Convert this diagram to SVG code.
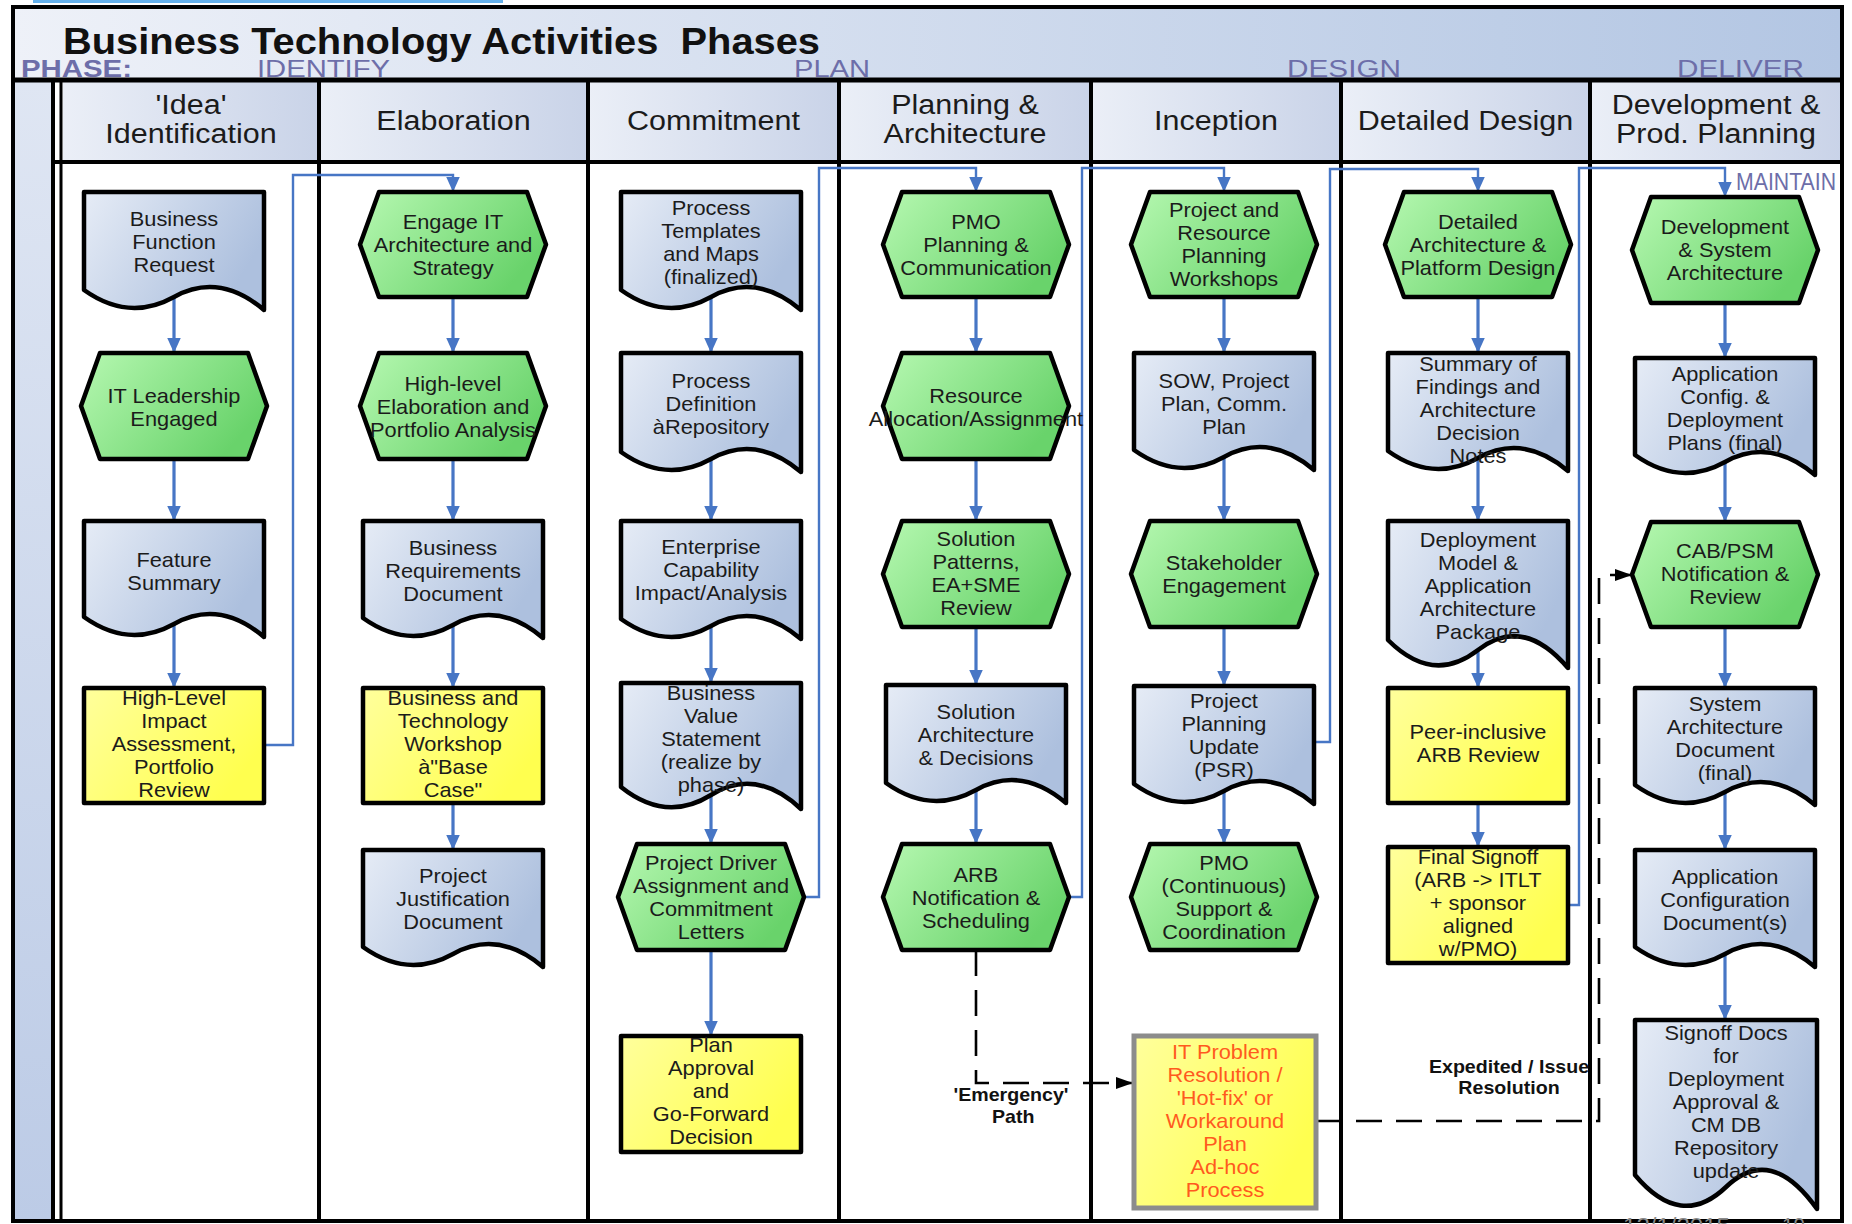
<svg xmlns="http://www.w3.org/2000/svg" width="1852" height="1224" viewBox="0 0 1852 1224">
<style>
  .doc{fill:url(#gDoc);stroke:#000;stroke-width:4.5;stroke-linejoin:round}
  .hex{fill:url(#gHex);stroke:#000;stroke-width:4.5;stroke-linejoin:round}
  .yel{fill:url(#gYel);stroke:#000;stroke-width:4.5;stroke-linejoin:round}
  .warn{fill:url(#gYel);stroke:#8c8c8c;stroke-width:5}
  .grid{stroke:#000;stroke-width:4;fill:none}
  .t{font-family:"Liberation Sans",Arial,Helvetica,sans-serif;font-size:20px;fill:#1b1b1b;text-anchor:middle;transform-box:fill-box;transform-origin:center;transform:scaleX(1.09)}
  .h{font-size:27px;transform:scaleX(1.13)}
  .lbl{font-size:18px;font-weight:bold;fill:#111}
  .red{fill:#ff5a1e}
  .ph{font-family:"Liberation Sans",Arial,Helvetica,sans-serif;font-size:23px;fill:#6d6ea9}
  .flow{fill:none;stroke:#4776c5;stroke-width:3.2;marker-end:url(#ah)}
  .route{fill:none;stroke:#4776c5;stroke-width:2.4;marker-end:url(#ah)}
  .dash{fill:none;stroke:#000;stroke-width:2.6;stroke-dasharray:26 14;marker-end:url(#ak)}
</style>
<defs>
  <linearGradient id="gDoc" x1="0" y1="0" x2="1" y2="0.4">
    <stop offset="0" stop-color="#e6ecf6"/>
    <stop offset="1" stop-color="#adc0de"/>
  </linearGradient>
  <linearGradient id="gHex" x1="0" y1="0" x2="1" y2="0.5">
    <stop offset="0" stop-color="#b6f8b1"/>
    <stop offset="1" stop-color="#69d36b"/>
  </linearGradient>
  <linearGradient id="gYel" x1="0" y1="0" x2="1" y2="0.5">
    <stop offset="0" stop-color="#ffff9c"/>
    <stop offset="1" stop-color="#ffff4f"/>
  </linearGradient>
  <linearGradient id="gTitle" x1="0" y1="0" x2="1" y2="0">
    <stop offset="0" stop-color="#eef1f8"/>
    <stop offset="1" stop-color="#b3c6e3"/>
  </linearGradient>
  <linearGradient id="gHead" x1="0" y1="0" x2="1" y2="0">
    <stop offset="0" stop-color="#ebeff7"/>
    <stop offset="1" stop-color="#c9d3e8"/>
  </linearGradient>
  <linearGradient id="gBar" x1="0" y1="0" x2="0" y2="1">
    <stop offset="0" stop-color="#dfe6f3"/>
    <stop offset="1" stop-color="#bccbe6"/>
  </linearGradient>
  <marker id="ah" markerUnits="userSpaceOnUse" markerWidth="15" markerHeight="15" viewBox="0 0 10 10" refX="10" refY="5" orient="auto">
    <path d="M0,0.5 L10,5 L0,9.5 Z" fill="#4776c5"/>
  </marker>
  <marker id="ak" markerUnits="userSpaceOnUse" markerWidth="17" markerHeight="17" viewBox="0 0 10 10" refX="10" refY="5" orient="auto">
    <path d="M0,1.5 L10,5 L0,8.5 Z" fill="#000"/>
  </marker>
</defs>

<!-- page background and swimlane frame -->
<rect width="1852" height="1224" fill="#fff"/>
<rect x="33" y="0" width="470" height="3" fill="#64b0ec"/>
<rect x="13" y="7" width="1829" height="73" fill="url(#gTitle)"/>
<rect x="13" y="80" width="40" height="1141" fill="url(#gBar)"/>
<g id="header-cells">
  <rect x="63" y="80" width="256" height="82" fill="url(#gHead)"/>
  <rect x="319" y="80" width="269" height="82" fill="url(#gHead)"/>
  <rect x="588" y="80" width="251" height="82" fill="url(#gHead)"/>
  <rect x="839" y="80" width="252" height="82" fill="url(#gHead)"/>
  <rect x="1091" y="80" width="250" height="82" fill="url(#gHead)"/>
  <rect x="1341" y="80" width="249" height="82" fill="url(#gHead)"/>
  <rect x="1590" y="80" width="252" height="82" fill="url(#gHead)"/>
</g>
<g id="grid" class="grid">
  <line x1="13" y1="80" x2="1842" y2="80" stroke-width="5"/>
  <line x1="53" y1="162" x2="1842" y2="162"/>
  <line x1="53" y1="80" x2="53" y2="1221"/>
  <line x1="61" y1="80" x2="61" y2="1221" stroke-width="3"/>
  <line x1="319" y1="80" x2="319" y2="1221"/>
  <line x1="588" y1="80" x2="588" y2="1221"/>
  <line x1="839" y1="80" x2="839" y2="1221"/>
  <line x1="1091" y1="80" x2="1091" y2="1221"/>
  <line x1="1341" y1="80" x2="1341" y2="1221"/>
  <line x1="1590" y1="80" x2="1590" y2="1221"/>
  <rect x="13" y="7" width="1829" height="1214"/>
</g>

<!-- title and phase labels -->
<text x="63" y="54" font-family="Liberation Sans, Arial, sans-serif" font-size="36" font-weight="bold" fill="#111" textLength="757" lengthAdjust="spacingAndGlyphs" style="white-space:pre">Business Technology Activities  Phases</text>
<text class="ph" x="21" y="77" font-weight="bold" textLength="111" lengthAdjust="spacingAndGlyphs">PHASE:</text>
<text class="ph" x="257" y="77" textLength="133" lengthAdjust="spacingAndGlyphs">IDENTIFY</text>
<text class="ph" x="794" y="77" textLength="76" lengthAdjust="spacingAndGlyphs">PLAN</text>
<text class="ph" x="1287" y="77" textLength="114" lengthAdjust="spacingAndGlyphs">DESIGN</text>
<text class="ph" x="1677" y="77" textLength="127" lengthAdjust="spacingAndGlyphs">DELIVER</text>
<text class="ph" x="1736" y="190" font-size="18" textLength="100" lengthAdjust="spacingAndGlyphs">MAINTAIN</text>

<!-- column headers -->
<g id="headers">
  <text class="t h" x="191" y="114"><tspan x="191">'Idea'</tspan><tspan x="191" dy="29">Identification</tspan></text>
  <text class="t h" x="453.5" y="130">Elaboration</text>
  <text class="t h" x="713.5" y="130">Commitment</text>
  <text class="t h" x="965" y="114"><tspan x="965">Planning &amp;</tspan><tspan x="965" dy="29">Architecture</tspan></text>
  <text class="t h" x="1216" y="130">Inception</text>
  <text class="t h" x="1465.5" y="130">Detailed Design</text>
  <text class="t h" x="1716" y="114"><tspan x="1716">Development &amp;</tspan><tspan x="1716" dy="29">Prod. Planning</tspan></text>
</g>

<!-- connectors -->
<g id="connectors">
  <path class="flow" d="M174,297V353"/>
  <path class="flow" d="M174,459V521"/>
  <path class="flow" d="M174,624V688"/>
  <path class="flow" d="M453,297V353"/>
  <path class="flow" d="M453,459V521"/>
  <path class="flow" d="M453,625V688"/>
  <path class="flow" d="M453,803V850"/>
  <path class="flow" d="M711,297V353"/>
  <path class="flow" d="M711,459V521"/>
  <path class="flow" d="M711,626V683"/>
  <path class="flow" d="M711,795V844"/>
  <path class="flow" d="M711,950V1036"/>
  <path class="flow" d="M976,297V353"/>
  <path class="flow" d="M976,459V521"/>
  <path class="flow" d="M976,627V685"/>
  <path class="flow" d="M976,790V844"/>
  <path class="flow" d="M1224,297V353"/>
  <path class="flow" d="M1224,457V521"/>
  <path class="flow" d="M1224,627V686"/>
  <path class="flow" d="M1224,791V844"/>
  <path class="flow" d="M1478,297V353"/>
  <path class="flow" d="M1478,458V521"/>
  <path class="flow" d="M1478,650V688"/>
  <path class="flow" d="M1478,803V847"/>
  <path class="flow" d="M1725,303V358"/>
  <path class="flow" d="M1725,462V522"/>
  <path class="flow" d="M1725,627V688"/>
  <path class="flow" d="M1725,792V850"/>
  <path class="flow" d="M1725,954V1020"/>
  <path class="route" d="M264,745H293V175H453V192"/>
  <path class="route" d="M804,897H819V168H976V192"/>
  <path class="route" d="M1069,897H1082V168H1224V192"/>
  <path class="route" d="M1314,742H1330V169H1478V192"/>
  <path class="route" d="M1568,905H1579V168H1725V197"/>
  <path class="dash" d="M976,950V1083H1133"/>
  <path class="dash" d="M1316,1121H1599V575H1632"/>
  <text class="t lbl" x="1011" y="1101"><tspan x="1011">'Emergency'</tspan><tspan x="1013" dy="22">Path</tspan></text>
  <text class="t lbl" x="1509" y="1073"><tspan x="1509">Expedited / Issue</tspan><tspan x="1509" dy="21">Resolution</tspan></text>
</g>

<!-- IDENTIFY: 'Idea' Identification -->
<g id="business-function-request">
  <path class="doc" d="M84,192H264V310Q219,272 174,297T84,290Z"/>
  <text class="t" x="174" y="226"><tspan x="174">Business</tspan><tspan x="174" dy="23">Function</tspan><tspan x="174" dy="23">Request</tspan></text>
</g>
<g id="it-leadership-engaged">
  <polygon class="hex" points="100,353 248,353 267,406 248,459 100,459 81,406"/>
  <text class="t" x="174" y="403"><tspan x="174">IT Leadership</tspan><tspan x="174" dy="23">Engaged</tspan></text>
</g>
<g id="feature-summary">
  <path class="doc" d="M84,521H264V637Q219,599 174,624T84,617Z"/>
  <text class="t" x="174" y="567"><tspan x="174">Feature</tspan><tspan x="174" dy="23">Summary</tspan></text>
</g>
<g id="high-level-impact">
  <rect class="yel" x="84" y="688" width="180" height="115"/>
  <text class="t" x="174" y="705"><tspan x="174">High-Level</tspan><tspan x="174" dy="23">Impact</tspan><tspan x="174" dy="23">Assessment,</tspan><tspan x="174" dy="23">Portfolio</tspan><tspan x="174" dy="23">Review</tspan></text>
</g>

<!-- Elaboration -->
<g id="engage-it-architecture">
  <polygon class="hex" points="379,192 527,192 546,244.5 527,297 379,297 360,244.5"/>
  <text class="t" x="453" y="229"><tspan x="453">Engage IT</tspan><tspan x="453" dy="23">Architecture and</tspan><tspan x="453" dy="23">Strategy</tspan></text>
</g>
<g id="high-level-elaboration">
  <polygon class="hex" points="379,353 527,353 546,406 527,459 379,459 360,406"/>
  <text class="t" x="453" y="391"><tspan x="453">High-level</tspan><tspan x="453" dy="23">Elaboration and</tspan><tspan x="453" dy="23">Portfolio Analysis</tspan></text>
</g>
<g id="business-requirements-document">
  <path class="doc" d="M363,521H543V638Q498,600 453,625T363,618Z"/>
  <text class="t" x="453" y="555"><tspan x="453">Business</tspan><tspan x="453" dy="23">Requirements</tspan><tspan x="453" dy="23">Document</tspan></text>
</g>
<g id="business-technology-workshop">
  <rect class="yel" x="363" y="688" width="180" height="115"/>
  <text class="t" x="453" y="705"><tspan x="453">Business and</tspan><tspan x="453" dy="23">Technology</tspan><tspan x="453" dy="23">Workshop</tspan><tspan x="453" dy="23">à"Base</tspan><tspan x="453" dy="23">Case"</tspan></text>
</g>
<g id="project-justification-document">
  <path class="doc" d="M363,850H543V967Q498,929 453,954T363,947Z"/>
  <text class="t" x="453" y="883"><tspan x="453">Project</tspan><tspan x="453" dy="23">Justification</tspan><tspan x="453" dy="23">Document</tspan></text>
</g>

<!-- Commitment -->
<g id="process-templates">
  <path class="doc" d="M621,192H801V310Q756,272 711,297T621,290Z"/>
  <text class="t" x="711" y="215"><tspan x="711">Process</tspan><tspan x="711" dy="23">Templates</tspan><tspan x="711" dy="23">and Maps</tspan><tspan x="711" dy="23">(finalized)</tspan></text>
</g>
<g id="process-definition">
  <path class="doc" d="M621,353H801V472Q756,434 711,459T621,452Z"/>
  <text class="t" x="711" y="388"><tspan x="711">Process</tspan><tspan x="711" dy="23">Definition</tspan><tspan x="711" dy="23">àRepository</tspan></text>
</g>
<g id="enterprise-capability">
  <path class="doc" d="M621,521H801V639Q756,601 711,626T621,619Z"/>
  <text class="t" x="711" y="554"><tspan x="711">Enterprise</tspan><tspan x="711" dy="23">Capability</tspan><tspan x="711" dy="23">Impact/Analysis</tspan></text>
</g>
<g id="business-value-statement">
  <path class="doc" d="M621,683H801V809Q756,767 711,795T621,787Z"/>
  <text class="t" x="711" y="700"><tspan x="711">Business</tspan><tspan x="711" dy="23">Value</tspan><tspan x="711" dy="23">Statement</tspan><tspan x="711" dy="23">(realize by</tspan><tspan x="711" dy="23">phase)</tspan></text>
</g>
<g id="project-driver-assignment">
  <polygon class="hex" points="637,844 785,844 804,897 785,950 637,950 618,897"/>
  <text class="t" x="711" y="870"><tspan x="711">Project Driver</tspan><tspan x="711" dy="23">Assignment and</tspan><tspan x="711" dy="23">Commitment</tspan><tspan x="711" dy="23">Letters</tspan></text>
</g>
<g id="plan-approval">
  <rect class="yel" x="621" y="1036" width="180" height="116"/>
  <text class="t" x="711" y="1052"><tspan x="711">Plan</tspan><tspan x="711" dy="23">Approval</tspan><tspan x="711" dy="23">and</tspan><tspan x="711" dy="23">Go-Forward</tspan><tspan x="711" dy="23">Decision</tspan></text>
</g>

<!-- Planning & Architecture -->
<g id="pmo-planning">
  <polygon class="hex" points="902,192 1050,192 1069,244.5 1050,297 902,297 883,244.5"/>
  <text class="t" x="976" y="229"><tspan x="976">PMO</tspan><tspan x="976" dy="23">Planning &amp;</tspan><tspan x="976" dy="23">Communication</tspan></text>
</g>
<g id="resource-allocation">
  <polygon class="hex" points="902,353 1050,353 1069,406 1050,459 902,459 883,406"/>
  <text class="t" x="976" y="403"><tspan x="976">Resource</tspan><tspan x="976" dy="23">Allocation/Assignment</tspan></text>
</g>
<g id="solution-patterns">
  <polygon class="hex" points="902,521 1050,521 1069,574 1050,627 902,627 883,574"/>
  <text class="t" x="976" y="546"><tspan x="976">Solution</tspan><tspan x="976" dy="23">Patterns,</tspan><tspan x="976" dy="23">EA+SME</tspan><tspan x="976" dy="23">Review</tspan></text>
</g>
<g id="solution-architecture">
  <path class="doc" d="M886,685H1066V803Q1021,765 976,790T886,783Z"/>
  <text class="t" x="976" y="719"><tspan x="976">Solution</tspan><tspan x="976" dy="23">Architecture</tspan><tspan x="976" dy="23">&amp; Decisions</tspan></text>
</g>
<g id="arb-notification">
  <polygon class="hex" points="902,844 1050,844 1069,897 1050,950 902,950 883,897"/>
  <text class="t" x="976" y="882"><tspan x="976">ARB</tspan><tspan x="976" dy="23">Notification &amp;</tspan><tspan x="976" dy="23">Scheduling</tspan></text>
</g>

<!-- Inception -->
<g id="project-resource-workshops">
  <polygon class="hex" points="1150,192 1298,192 1317,244.5 1298,297 1150,297 1131,244.5"/>
  <text class="t" x="1224" y="217"><tspan x="1224">Project and</tspan><tspan x="1224" dy="23">Resource</tspan><tspan x="1224" dy="23">Planning</tspan><tspan x="1224" dy="23">Workshops</tspan></text>
</g>
<g id="sow-project-plan">
  <path class="doc" d="M1134,353H1314V470Q1269,432 1224,457T1134,450Z"/>
  <text class="t" x="1224" y="388"><tspan x="1224">SOW, Project</tspan><tspan x="1224" dy="23">Plan, Comm.</tspan><tspan x="1224" dy="23">Plan</tspan></text>
</g>
<g id="stakeholder-engagement">
  <polygon class="hex" points="1150,521 1298,521 1317,574 1298,627 1150,627 1131,574"/>
  <text class="t" x="1224" y="570"><tspan x="1224">Stakeholder</tspan><tspan x="1224" dy="23">Engagement</tspan></text>
</g>
<g id="project-planning-update">
  <path class="doc" d="M1134,686H1314V804Q1269,766 1224,791T1134,784Z"/>
  <text class="t" x="1224" y="708"><tspan x="1224">Project</tspan><tspan x="1224" dy="23">Planning</tspan><tspan x="1224" dy="23">Update</tspan><tspan x="1224" dy="23">(PSR)</tspan></text>
</g>
<g id="pmo-continuous">
  <polygon class="hex" points="1150,844 1298,844 1317,897 1298,950 1150,950 1131,897"/>
  <text class="t" x="1224" y="870"><tspan x="1224">PMO</tspan><tspan x="1224" dy="23">(Continuous)</tspan><tspan x="1224" dy="23">Support &amp;</tspan><tspan x="1224" dy="23">Coordination</tspan></text>
</g>
<g id="it-problem-resolution">
  <rect class="warn" x="1134" y="1036" width="182" height="172"/>
  <text class="t red" x="1225" y="1059"><tspan x="1225">IT Problem</tspan><tspan x="1225" dy="23">Resolution /</tspan><tspan x="1225" dy="23">'Hot-fix' or</tspan><tspan x="1225" dy="23">Workaround</tspan><tspan x="1225" dy="23">Plan</tspan><tspan x="1225" dy="23">Ad-hoc</tspan><tspan x="1225" dy="23">Process</tspan></text>
</g>

<!-- Detailed Design -->
<g id="detailed-architecture">
  <polygon class="hex" points="1404,192 1552,192 1571,244.5 1552,297 1404,297 1385,244.5"/>
  <text class="t" x="1478" y="229"><tspan x="1478">Detailed</tspan><tspan x="1478" dy="23">Architecture &amp;</tspan><tspan x="1478" dy="23">Platform Design</tspan></text>
</g>
<g id="summary-of-findings">
  <path class="doc" d="M1388,353H1568V471Q1523,433 1478,458T1388,451Z"/>
  <text class="t" x="1478" y="371"><tspan x="1478">Summary of</tspan><tspan x="1478" dy="23">Findings and</tspan><tspan x="1478" dy="23">Architecture</tspan><tspan x="1478" dy="23">Decision</tspan><tspan x="1478" dy="23">Notes</tspan></text>
</g>
<g id="deployment-model">
  <path class="doc" d="M1388,521H1568V668Q1523,615 1478,650T1388,640Z"/>
  <text class="t" x="1478" y="547"><tspan x="1478">Deployment</tspan><tspan x="1478" dy="23">Model &amp;</tspan><tspan x="1478" dy="23">Application</tspan><tspan x="1478" dy="23">Architecture</tspan><tspan x="1478" dy="23">Package</tspan></text>
</g>
<g id="peer-inclusive-review">
  <rect class="yel" x="1388" y="688" width="180" height="115"/>
  <text class="t" x="1478" y="739"><tspan x="1478">Peer-inclusive</tspan><tspan x="1478" dy="23">ARB Review</tspan></text>
</g>
<g id="final-signoff">
  <rect class="yel" x="1388" y="847" width="180" height="116"/>
  <text class="t" x="1478" y="864"><tspan x="1478">Final Signoff</tspan><tspan x="1478" dy="23">(ARB -&gt; ITLT</tspan><tspan x="1478" dy="23">+ sponsor</tspan><tspan x="1478" dy="23">aligned</tspan><tspan x="1478" dy="23">w/PMO)</tspan></text>
</g>

<!-- Development & Prod. Planning -->
<g id="development-system-architecture">
  <polygon class="hex" points="1651,197 1799,197 1818,250 1799,303 1651,303 1632,250"/>
  <text class="t" x="1725" y="234"><tspan x="1725">Development</tspan><tspan x="1725" dy="23">&amp; System</tspan><tspan x="1725" dy="23">Architecture</tspan></text>
</g>
<g id="application-config-plans">
  <path class="doc" d="M1635,358H1815V475Q1770,437 1725,462T1635,455Z"/>
  <text class="t" x="1725" y="381"><tspan x="1725">Application</tspan><tspan x="1725" dy="23">Config. &amp;</tspan><tspan x="1725" dy="23">Deployment</tspan><tspan x="1725" dy="23">Plans (final)</tspan></text>
</g>
<g id="cab-psm-review">
  <polygon class="hex" points="1651,522 1799,522 1818,574.5 1799,627 1651,627 1632,574.5"/>
  <text class="t" x="1725" y="558"><tspan x="1725">CAB/PSM</tspan><tspan x="1725" dy="23">Notification &amp;</tspan><tspan x="1725" dy="23">Review</tspan></text>
</g>
<g id="system-architecture-document">
  <path class="doc" d="M1635,688H1815V805Q1770,767 1725,792T1635,785Z"/>
  <text class="t" x="1725" y="711"><tspan x="1725">System</tspan><tspan x="1725" dy="23">Architecture</tspan><tspan x="1725" dy="23">Document</tspan><tspan x="1725" dy="23">(final)</tspan></text>
</g>
<g id="application-configuration-documents">
  <path class="doc" d="M1635,850H1815V967Q1770,929 1725,954T1635,947Z"/>
  <text class="t" x="1725" y="884"><tspan x="1725">Application</tspan><tspan x="1725" dy="23">Configuration</tspan><tspan x="1725" dy="23">Document(s)</tspan></text>
</g>
<g id="signoff-docs">
  <path class="doc" d="M1635,1020H1817V1209Q1771,1144 1726,1187T1635,1175Z"/>
  <text class="t" x="1726" y="1040"><tspan x="1726">Signoff Docs</tspan><tspan x="1726" dy="23">for</tspan><tspan x="1726" dy="23">Deployment</tspan><tspan x="1726" dy="23">Approval &amp;</tspan><tspan x="1726" dy="23">CM DB</tspan><tspan x="1726" dy="23">Repository</tspan><tspan x="1726" dy="23">update</tspan></text>
</g>

<!-- footer, clipped at the page edge -->
<text x="1623" y="1233" font-family="Liberation Sans, Arial, sans-serif" font-size="22" fill="#8a8a8a" textLength="107" lengthAdjust="spacingAndGlyphs">12/1/2015</text>
<text x="1782" y="1233" font-family="Liberation Sans, Arial, sans-serif" font-size="22" fill="#8a8a8a" textLength="23" lengthAdjust="spacingAndGlyphs">19</text>
</svg>
